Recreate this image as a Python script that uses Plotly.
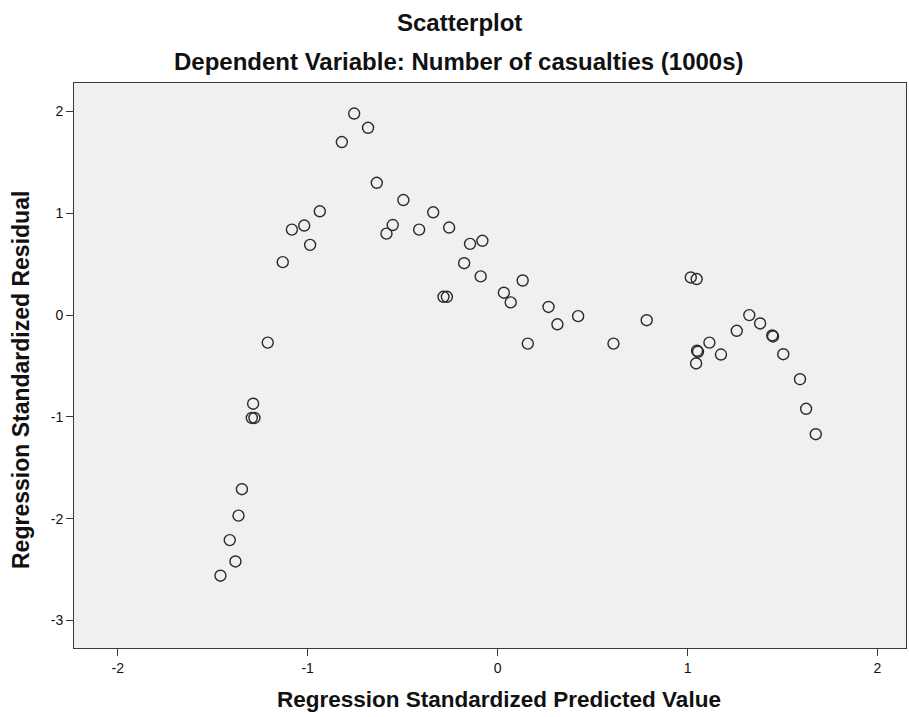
import plotly.graph_objects as go

# Regression standardized predicted value (x) and standardized residual (y)
pred = [-0.755, -0.82, -0.682, -0.636, -0.936, -1.018, -1.083, -0.987, -1.131, -1.21,
        -1.287, -1.294, -1.280, -1.346, -1.364, -1.41, -1.38, -1.459,
        -0.496, -0.339, -0.552, -0.585, -0.413, -0.255, -0.145, -0.08, -0.176, -0.089,
        -0.285, -0.267, 0.132, 0.033, 0.069, 0.268, 0.315, 0.424, 0.159, 0.61, 0.785,
        1.017, 1.048, 1.050, 1.055, 1.045, 1.115, 1.176, 1.259, 1.325, 1.382,
        1.446, 1.450, 1.504, 1.592, 1.624, 1.675]
resid = [1.98, 1.70, 1.84, 1.30, 1.02, 0.88, 0.84, 0.69, 0.52, -0.27,
         -0.87, -1.01, -1.01, -1.71, -1.97, -2.21, -2.42, -2.56,
         1.13, 1.01, 0.885, 0.80, 0.84, 0.86, 0.70, 0.73, 0.51, 0.38,
         0.18, 0.18, 0.34, 0.22, 0.125, 0.08, -0.09, -0.01, -0.28, -0.28, -0.05,
         0.37, 0.354, -0.35, -0.36, -0.475, -0.27, -0.387, -0.154, 0.0, -0.082,
         -0.20, -0.21, -0.384, -0.63, -0.92, -1.17]

x_ticks = [-2, -1, 0, 1, 2]
y_ticks = [-3, -2, -1, 0, 1, 2]

title_text = "Scatterplot"
subtitle_text = "Dependent Variable: Number of casualties (1000s)"
x_title = "Regression Standardized Predicted Value"
y_title = "Regression Standardized Residual"

FONT = "Liberation Sans, Arial, sans-serif"
W, H = 909, 717
L, R, T, B = 74, 3, 83, 69
pw, ph = W - L - R, H - T - B

def px(xp):
    return (xp - L) / pw

def py(yp):
    return (H - B - yp) / ph

fig = go.Figure()
fig.add_trace(go.Scatter(
    x=pred, y=resid, mode="markers",
    marker=dict(symbol="circle-open", size=11, color="#2a2a2a",
                line=dict(width=1.4, color="#2a2a2a")),
    showlegend=False, hoverinfo="x+y"))

axis_common = dict(showgrid=False, zeroline=False, showline=True, linecolor="#3a3a3a",
                   linewidth=1, mirror=True, ticks="outside", ticklen=7, tickwidth=1,
                   tickcolor="#3a3a3a", tickfont=dict(family=FONT, size=14, color="#111"))

fig.update_layout(
    width=W, height=H, autosize=False,
    margin=dict(l=L, r=R, t=T, b=B),
    paper_bgcolor="white", plot_bgcolor="#f0f0f0",
    xaxis=dict(range=[-2.23, 2.15], tickvals=x_ticks, ticktext=[str(v) for v in x_ticks],
               **axis_common),
    yaxis=dict(range=[-3.27, 2.28], tickvals=y_ticks, ticktext=[str(v) for v in y_ticks],
               **axis_common),
)

ann = [
    dict(text=title_text, x=px(459), y=py(22), size=24),
    dict(text=subtitle_text, x=px(459), y=py(62), size=24),
    dict(text=x_title, x=px(499), y=py(699), size=22.5),
]
for a in ann:
    fig.add_annotation(text=a["text"], x=a["x"], y=a["y"], xref="paper", yref="paper",
                       xanchor="center", yanchor="middle", showarrow=False,
                       font=dict(family=FONT, size=a["size"], color="#111", weight="bold"))
fig.add_annotation(text=y_title, x=px(21), y=py(380), xref="paper", yref="paper",
                   xanchor="center", yanchor="middle", showarrow=False, textangle=-90,
                   font=dict(family=FONT, size=23, color="#111", weight="bold"))

fig.write_html("out.html")
